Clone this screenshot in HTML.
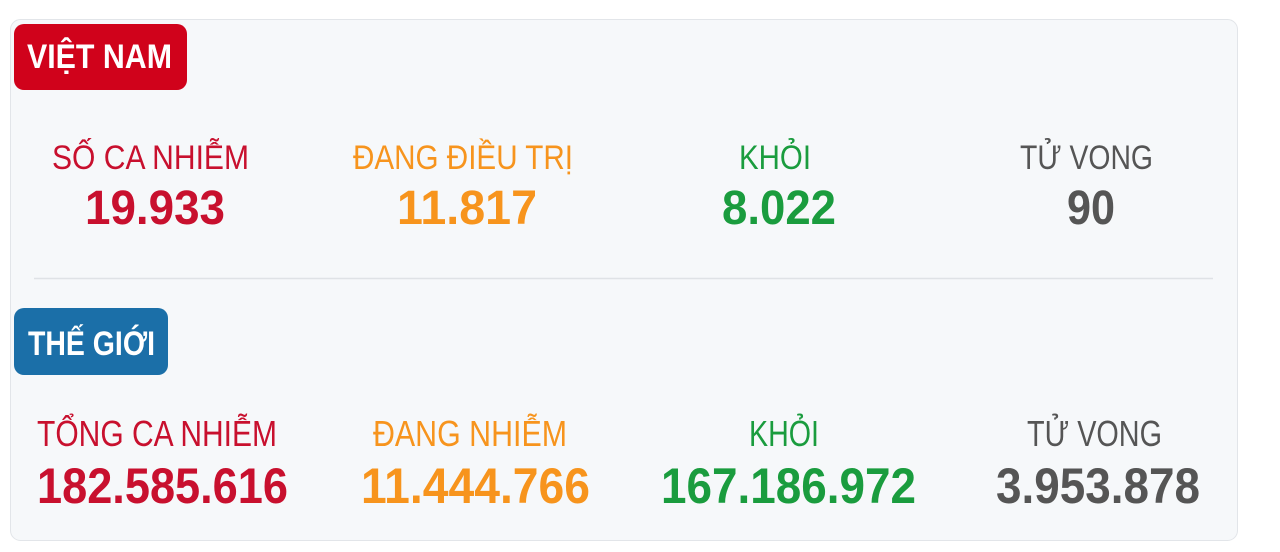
<!DOCTYPE html>
<html><head><meta charset="utf-8"><style>
html,body{margin:0;padding:0;background:#fff;}
svg{display:block;font-family:"Liberation Sans Narrow","Liberation Sans",sans-serif;}
</style></head><body>
<svg width="1280" height="552" viewBox="0 0 1280 552">
<rect x="10.5" y="19.5" width="1227" height="521" rx="10" fill="#f6f8fa" stroke="#e2e5e9"/>
<rect x="14" y="24" width="173" height="66" rx="10" fill="#d0021b"/>
<text x="27" y="68" font-size="34" font-weight="bold" fill="#fff" textLength="145" lengthAdjust="spacingAndGlyphs">VIỆT NAM</text>

<text x="52" y="169" font-size="34" fill="#c8102e" textLength="197" lengthAdjust="spacingAndGlyphs">SỐ CA NHIỄM</text>
<text x="353" y="169" font-size="34" fill="#f7941d" textLength="220" lengthAdjust="spacingAndGlyphs">ĐANG ĐIỀU TRỊ</text>
<text x="739" y="169" font-size="34" fill="#1a9c3e" textLength="72" lengthAdjust="spacingAndGlyphs">KHỎI</text>
<text x="1020" y="169" font-size="34" fill="#555" textLength="133" lengthAdjust="spacingAndGlyphs">TỬ VONG</text>

<text x="85" y="224" font-size="48" font-weight="bold" fill="#c8102e" textLength="140" lengthAdjust="spacingAndGlyphs">19.933</text>
<text x="397" y="224" font-size="48" font-weight="bold" fill="#f7941d" textLength="140" lengthAdjust="spacingAndGlyphs">11.817</text>
<text x="722" y="224" font-size="48" font-weight="bold" fill="#1a9c3e" textLength="114" lengthAdjust="spacingAndGlyphs">8.022</text>
<text x="1067" y="224" font-size="48" font-weight="bold" fill="#555" textLength="48" lengthAdjust="spacingAndGlyphs">90</text>

<line x1="34" y1="278.5" x2="1213" y2="278.5" stroke="#dfe2e6" stroke-width="1.5"/>

<rect x="14" y="308" width="154" height="67" rx="10" fill="#1b6fa8"/>
<text x="28" y="355" font-size="34" font-weight="bold" fill="#fff" textLength="127" lengthAdjust="spacingAndGlyphs">THẾ GIỚI</text>

<text x="37" y="446" font-size="36" fill="#c8102e" textLength="240" lengthAdjust="spacingAndGlyphs">TỔNG CA NHIỄM</text>
<text x="373" y="446" font-size="36" fill="#f7941d" textLength="194" lengthAdjust="spacingAndGlyphs">ĐANG NHIỄM</text>
<text x="749" y="446" font-size="36" fill="#1a9c3e" textLength="70" lengthAdjust="spacingAndGlyphs">KHỎI</text>
<text x="1027" y="446" font-size="36" fill="#555" textLength="135" lengthAdjust="spacingAndGlyphs">TỬ VONG</text>

<text x="37" y="503" font-size="50" font-weight="bold" fill="#c8102e" textLength="251" lengthAdjust="spacingAndGlyphs">182.585.616</text>
<text x="361" y="503" font-size="50" font-weight="bold" fill="#f7941d" textLength="229" lengthAdjust="spacingAndGlyphs">11.444.766</text>
<text x="661" y="503" font-size="50" font-weight="bold" fill="#1a9c3e" textLength="255" lengthAdjust="spacingAndGlyphs">167.186.972</text>
<text x="996" y="503" font-size="50" font-weight="bold" fill="#555" textLength="204" lengthAdjust="spacingAndGlyphs">3.953.878</text>
</svg>
</body></html>
